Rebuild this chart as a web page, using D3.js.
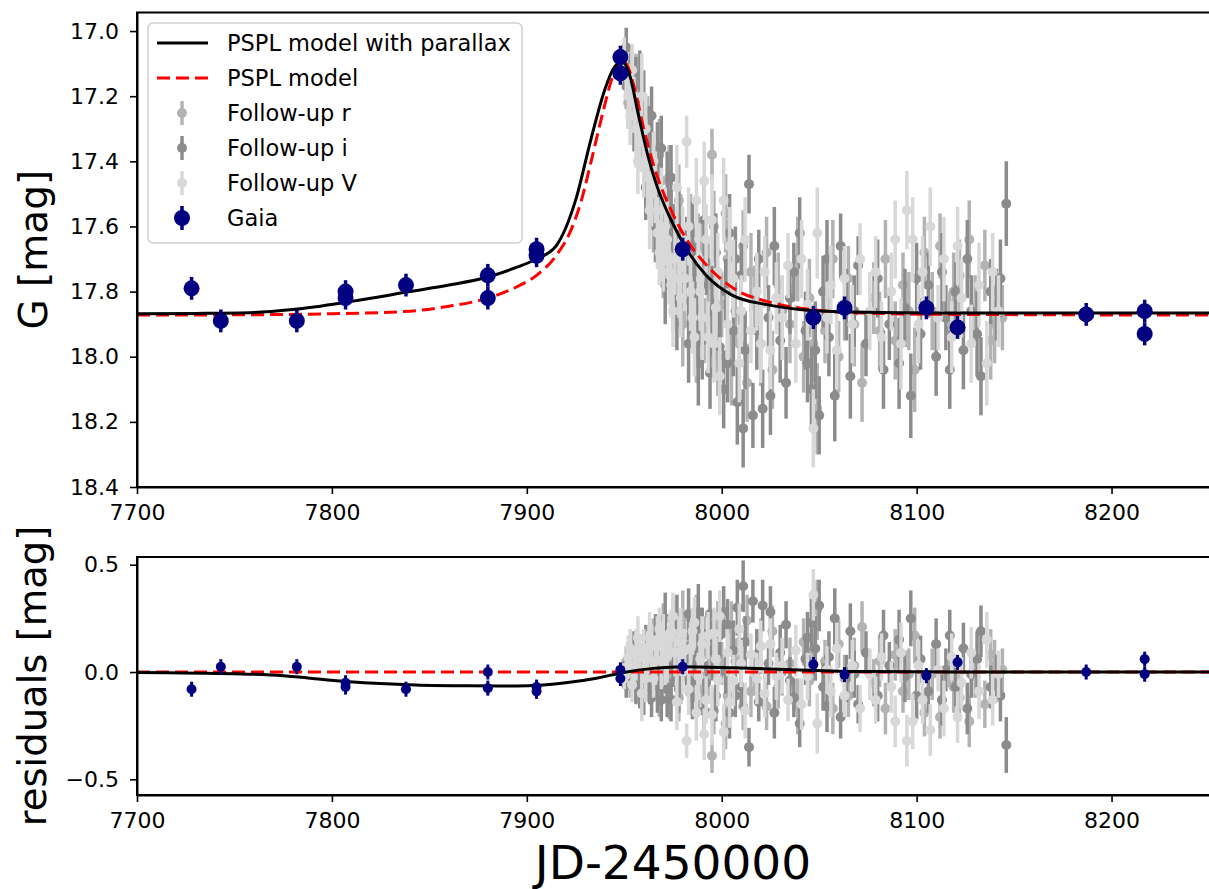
<!DOCTYPE html>
<html lang="en">
<head>
<meta charset="UTF-8" />
<title>Gaia microlensing light curve</title>
<script src="https://d3js.org/d3.v7.min.js"></script>
<style>
  body { margin: 0; background: #fff; }
  svg { display: block; font-family: 'DejaVu Sans', sans-serif; }
  .axis path { stroke: #000; stroke-width: 2; }
  .axis line { stroke: #000; stroke-width: 1.6; }
  .axis text { font-size: 22px; fill: #000; font-family: 'DejaVu Sans', sans-serif; }
</style>
</head>
<body>
<svg id="chart" width="1209" height="889"></svg>
<script>
// tick values
var xTicks = [7700, 7800, 7900, 8000, 8100, 8200]
var magTicks = [17.0, 17.2, 17.4, 17.6, 17.8, 18.0, 18.2, 18.4]
var resTicks = [-0.5, 0.0, 0.5]

// Gaia photometry: JD-2450000, G mag, error, residual
var gaiaJD  = [7728, 7743, 7782, 7807, 7807, 7838, 7880, 7880, 7905, 7905, 7948, 7948, 7980, 8047, 8063, 8105, 8121, 8187, 8217, 8217]
var gaiaMag = [17.79, 17.89, 17.89, 17.80, 17.82, 17.78, 17.75, 17.82, 17.67, 17.69, 17.08, 17.13, 17.67, 17.88, 17.85, 17.85, 17.91, 17.87, 17.86, 17.93]
var gaiaErr = [0.035, 0.035, 0.035, 0.035, 0.035, 0.035, 0.035, 0.035, 0.035, 0.035, 0.035, 0.035, 0.035, 0.035, 0.035, 0.035, 0.035, 0.035, 0.035, 0.035]
var gaiaRes = [-0.08, 0.025, 0.025, -0.07, -0.05, -0.08, -0.075, 0.0, -0.09, -0.07, -0.03, 0.01, 0.025, 0.035, -0.012, -0.017, 0.045, 0.0, -0.01, 0.06]

// follow-up photometry rows: [JD-2450000, mag, error, residual]
var followR = [
  [7949, 17.10, 0.05, -0.01], [7951, 17.17, 0.07, 0.05], [7953, 17.14, 0.09, -0.03], [7955, 17.25, 0.06, 0.04],
  [7958, 17.22, 0.10, -0.06], [7960, 17.35, 0.08, 0.03], [7961, 17.42, 0.09, 0.08], [7964, 17.36, 0.11, -0.04],
  [7966, 17.50, 0.09, 0.06], [7969, 17.46, 0.10, -0.04], [7971, 17.60, 0.11, 0.07], [7974, 17.55, 0.08, -0.03],
  [7977, 17.68, 0.10, 0.06], [7979, 17.62, 0.12, -0.03], [7981, 17.80, 0.09, 0.14], [7983, 17.72, 0.11, 0.04],
  [7986, 17.85, 0.12, 0.12], [7988, 17.66, 0.10, -0.08], [7991, 17.92, 0.10, 0.16], [7993, 17.78, 0.13, 0.01],
  [7995, 17.38, 0.08, -0.39], [7996, 17.60, 0.11, -0.18], [7998, 18.00, 0.12, 0.21], [8000, 17.84, 0.10, 0.04],
  [8003, 17.70, 0.12, -0.11], [8005, 18.02, 0.13, 0.20], [8007, 17.86, 0.09, 0.05], [8011, 17.66, 0.11, -0.16],
  [8013, 18.08, 0.12, 0.24], [8017, 17.82, 0.10, -0.01], [8020, 17.96, 0.13, 0.12], [8023, 17.68, 0.11, -0.16],
  [8026, 18.04, 0.12, 0.19], [8029, 17.78, 0.10, -0.07], [8035, 17.90, 0.12, 0.04], [8039, 17.70, 0.13, -0.16],
  [8042, 18.00, 0.11, 0.14], [8045, 17.82, 0.12, -0.04], [8049, 18.16, 0.14, 0.29], [8053, 17.92, 0.10, 0.05],
  [8057, 17.70, 0.12, -0.17], [8060, 18.00, 0.11, 0.13], [8065, 17.76, 0.10, -0.11], [8068, 17.90, 0.13, 0.03],
  [8072, 18.08, 0.12, 0.21], [8078, 17.82, 0.11, -0.05], [8084, 17.70, 0.12, -0.17], [8089, 17.95, 0.12, 0.08],
  [8093, 17.78, 0.10, -0.09], [8099, 18.04, 0.13, 0.17], [8104, 17.68, 0.11, -0.19], [8108, 17.86, 0.12, -0.01],
  [8112, 17.66, 0.10, -0.21], [8117, 17.92, 0.12, 0.05], [8122, 17.75, 0.11, -0.12], [8127, 17.64, 0.12, -0.23],
  [8130, 17.85, 0.10, -0.02], [8135, 17.72, 0.11, -0.15], [8140, 17.90, 0.12, 0.03], [8144, 17.88, 0.10, 0.01],
  [7952, 17.22, 0.08, 0.06], [7956, 17.16, 0.09, -0.05], [7962, 17.30, 0.10, -0.04], [7965, 17.58, 0.10, 0.15],
  [7968, 17.38, 0.11, -0.10], [7970, 17.70, 0.12, 0.20], [7973, 17.45, 0.10, -0.12], [7975, 17.80, 0.12, 0.22],
  [7978, 17.52, 0.11, -0.12], [7980, 17.90, 0.13, 0.25], [7984, 17.60, 0.10, -0.10], [7987, 17.96, 0.12, 0.24],
  [7990, 17.70, 0.11, -0.05], [7997, 17.88, 0.10, 0.10], [8002, 17.56, 0.12, -0.24], [8009, 17.96, 0.11, 0.14],
  [8015, 17.74, 0.12, -0.09], [8031, 17.86, 0.11, 0.00], [8047, 17.96, 0.12, 0.10], [8063, 17.84, 0.11, -0.03],
  [8081, 17.92, 0.12, 0.05], [8096, 17.86, 0.12, -0.01], [8119, 17.80, 0.12, -0.07], [8138, 17.95, 0.12, 0.08]
]
var followI = [
  [7950, 17.12, 0.06, -0.01], [7952, 17.15, 0.08, 0.02], [7954, 17.20, 0.07, 0.03], [7956, 17.18, 0.10, -0.05],
  [7957, 17.27, 0.08, 0.05], [7959, 17.30, 0.09, 0.02], [7960, 17.24, 0.12, -0.08], [7962, 17.38, 0.08, 0.04],
  [7963, 17.33, 0.10, -0.05], [7965, 17.45, 0.09, 0.03], [7967, 17.40, 0.12, -0.07], [7968, 17.52, 0.10, 0.05],
  [7970, 17.58, 0.08, 0.06], [7972, 17.50, 0.13, -0.08], [7973, 17.66, 0.10, 0.09], [7975, 17.62, 0.09, 0.02],
  [7976, 17.72, 0.12, 0.12], [7978, 17.58, 0.11, -0.08], [7980, 17.75, 0.10, 0.08], [7982, 17.69, 0.12, 0.02],
  [7984, 17.83, 0.11, 0.12], [7985, 17.62, 0.10, -0.12], [7987, 17.90, 0.13, 0.16], [7989, 17.78, 0.09, 0.03],
  [7990, 17.95, 0.12, 0.18], [7992, 17.71, 0.10, -0.05], [7994, 18.05, 0.11, 0.27], [7995, 17.86, 0.14, 0.10],
  [7997, 17.68, 0.12, -0.11], [7999, 17.97, 0.11, 0.17], [8001, 18.10, 0.12, 0.28], [8002, 17.80, 0.10, 0.00],
  [8004, 17.62, 0.12, -0.19], [8006, 17.92, 0.14, 0.10], [8008, 18.14, 0.13, 0.30], [8010, 17.75, 0.10, -0.07],
  [8012, 17.98, 0.12, 0.14], [8014, 17.47, 0.09, -0.35], [8016, 18.18, 0.10, 0.33], [8019, 17.70, 0.09, -0.14],
  [8021, 18.16, 0.12, 0.31], [8024, 17.88, 0.10, 0.04], [8027, 17.66, 0.12, -0.19], [8030, 17.95, 0.13, 0.09],
  [8033, 18.08, 0.11, 0.22], [8037, 17.74, 0.09, -0.12], [8040, 17.62, 0.11, -0.24], [8043, 17.92, 0.12, 0.06],
  [8046, 18.10, 0.13, 0.23], [8048, 17.98, 0.15, 0.11], [8050, 18.18, 0.12, 0.31], [8052, 17.80, 0.11, -0.07],
  [8055, 17.94, 0.12, 0.07], [8058, 18.12, 0.14, 0.25], [8061, 17.66, 0.10, -0.21], [8064, 17.84, 0.11, -0.03],
  [8066, 18.06, 0.13, 0.19], [8070, 17.72, 0.09, -0.15], [8074, 17.96, 0.10, 0.09], [8080, 17.76, 0.12, -0.11],
  [8086, 17.90, 0.11, 0.03], [8091, 18.02, 0.14, 0.15], [8094, 17.85, 0.12, -0.02], [8097, 18.12, 0.13, 0.25],
  [8102, 17.93, 0.11, 0.06], [8106, 17.78, 0.10, -0.09], [8110, 18.00, 0.12, 0.13], [8113, 17.74, 0.12, -0.13],
  [8115, 17.88, 0.10, 0.01], [8120, 17.80, 0.09, -0.07], [8124, 17.98, 0.12, 0.11], [8126, 17.70, 0.12, -0.17],
  [8131, 17.93, 0.13, 0.06], [8133, 18.06, 0.12, 0.19], [8138, 17.80, 0.10, -0.07], [8141, 17.84, 0.11, -0.03],
  [8146, 17.53, 0.13, -0.34],
  [7951, 17.05, 0.06, -0.06], [7955, 17.28, 0.09, 0.10], [7958, 17.14, 0.08, -0.09], [7961, 17.48, 0.10, 0.12],
  [7964, 17.26, 0.09, -0.12], [7966, 17.60, 0.11, 0.16], [7969, 17.36, 0.10, -0.13], [7971, 17.78, 0.12, 0.25],
  [7974, 17.45, 0.10, -0.13], [7977, 17.86, 0.12, 0.24], [7979, 17.70, 0.10, 0.05], [7983, 17.96, 0.12, 0.27],
  [7986, 17.74, 0.10, 0.03], [7988, 18.02, 0.13, 0.28], [7991, 17.58, 0.11, -0.18], [7996, 17.94, 0.12, 0.16],
  [8003, 18.02, 0.12, 0.22], [8007, 17.70, 0.10, -0.11], [8011, 18.22, 0.12, 0.40], [8018, 17.92, 0.12, 0.08],
  [8025, 18.12, 0.12, 0.28], [8035, 17.82, 0.11, -0.04], [8044, 18.02, 0.12, 0.16], [8054, 17.70, 0.12, -0.16],
  [8068, 17.86, 0.11, -0.01], [8083, 18.04, 0.12, 0.17], [8100, 17.76, 0.11, -0.11], [8117, 18.04, 0.12, 0.17],
  [8128, 17.86, 0.11, -0.01], [8143, 17.76, 0.12, -0.11]
]
var followV = [
  [7950, 17.08, 0.06, -0.02], [7952, 17.20, 0.10, 0.07], [7954, 17.12, 0.08, -0.06], [7956, 17.30, 0.12, 0.08],
  [7958, 17.34, 0.07, 0.07], [7959, 17.20, 0.13, -0.10], [7962, 17.45, 0.10, 0.09], [7963, 17.55, 0.12, 0.16],
  [7965, 17.40, 0.09, -0.03], [7967, 17.62, 0.11, 0.15], [7969, 17.55, 0.13, 0.05], [7970, 17.70, 0.10, 0.17],
  [7972, 17.64, 0.12, 0.07], [7974, 17.78, 0.10, 0.19], [7976, 17.70, 0.11, 0.09], [7977, 17.48, 0.13, -0.14],
  [7979, 17.82, 0.12, 0.18], [7981, 17.76, 0.10, 0.10], [7982, 17.34, 0.08, -0.32], [7983, 17.60, 0.12, -0.08],
  [7985, 17.88, 0.11, 0.19], [7987, 17.52, 0.13, -0.19], [7989, 17.80, 0.12, 0.06], [7991, 17.46, 0.12, -0.29],
  [7993, 17.94, 0.11, 0.17], [7995, 17.58, 0.14, -0.20], [7997, 17.85, 0.10, 0.06], [7999, 18.06, 0.12, 0.26],
  [8001, 17.52, 0.13, -0.28], [8003, 17.90, 0.11, 0.09], [8006, 17.76, 0.12, -0.04], [8009, 18.02, 0.12, 0.20],
  [8012, 17.64, 0.13, -0.18], [8015, 17.92, 0.10, 0.08], [8018, 17.80, 0.12, -0.03], [8022, 17.74, 0.11, -0.10],
  [8025, 17.98, 0.12, 0.13], [8031, 17.88, 0.13, 0.03], [8034, 17.72, 0.10, -0.13], [8038, 17.96, 0.12, 0.10],
  [8044, 17.84, 0.11, -0.02], [8047, 18.22, 0.12, 0.36], [8049, 17.62, 0.14, -0.24], [8054, 17.88, 0.11, 0.01],
  [8059, 17.98, 0.12, 0.11], [8063, 17.76, 0.10, -0.11], [8067, 17.90, 0.12, 0.03], [8071, 17.70, 0.11, -0.17],
  [8076, 17.86, 0.12, -0.01], [8082, 17.94, 0.11, 0.07], [8087, 17.80, 0.12, -0.07], [8092, 17.96, 0.14, 0.09],
  [8095, 17.55, 0.12, -0.32], [8098, 17.64, 0.13, -0.23], [8103, 17.74, 0.11, -0.13], [8107, 17.60, 0.12, -0.27],
  [8111, 17.88, 0.10, 0.01], [8114, 17.70, 0.13, -0.17], [8118, 17.94, 0.11, 0.07], [8123, 17.82, 0.12, -0.05],
  [8128, 17.96, 0.12, 0.09], [8132, 17.78, 0.13, -0.09], [8136, 18.02, 0.13, 0.15], [8142, 17.86, 0.11, -0.01],
  [7951, 17.14, 0.07, 0.02], [7953, 17.26, 0.09, 0.11], [7955, 17.22, 0.08, 0.03], [7957, 17.40, 0.10, 0.16],
  [7960, 17.42, 0.09, 0.11], [7961, 17.30, 0.11, -0.03], [7964, 17.50, 0.10, 0.12], [7966, 17.48, 0.11, 0.05],
  [7968, 17.68, 0.10, 0.20], [7971, 17.60, 0.12, 0.06], [7973, 17.74, 0.10, 0.16], [7975, 17.86, 0.11, 0.26],
  [7978, 17.76, 0.12, 0.14], [7980, 17.64, 0.10, 0.00], [7984, 17.80, 0.12, 0.11], [7986, 17.94, 0.12, 0.23],
  [7988, 17.70, 0.11, -0.02], [7990, 17.88, 0.13, 0.13], [7992, 17.64, 0.11, -0.13], [7996, 17.96, 0.12, 0.18],
  [7998, 17.74, 0.12, -0.04], [8004, 17.66, 0.12, -0.14], [8010, 17.86, 0.11, 0.04], [8020, 17.96, 0.12, 0.12],
  [8028, 17.82, 0.11, -0.02], [8041, 17.70, 0.12, -0.15], [8056, 17.78, 0.12, -0.09], [8079, 17.74, 0.11, -0.13],
  [8089, 17.64, 0.12, -0.23], [8101, 17.90, 0.12, 0.03], [8121, 17.66, 0.12, -0.21], [8139, 17.74, 0.12, -0.13]
]

// model curves
var parJD  = [7700, 7730, 7760, 7780, 7810, 7840, 7860, 7880, 7895, 7905, 7915, 7925, 7933, 7940, 7945, 7949, 7953, 7957, 7962, 7967, 7974, 7981, 7992, 8005, 8023, 8040, 8060, 8092, 8150, 8250]
var parMag = [17.868, 17.867, 17.864, 17.855, 17.83, 17.80, 17.78, 17.755, 17.725, 17.70, 17.66, 17.52, 17.33, 17.18, 17.11, 17.095, 17.14, 17.25, 17.38, 17.48, 17.58, 17.66, 17.75, 17.81, 17.84, 17.855, 17.862, 17.865, 17.866, 17.866]
var psplJD  = [7700, 7760, 7800, 7840, 7860, 7880, 7895, 7905, 7915, 7922, 7928, 7933, 7939, 7944, 7948, 7951, 7955, 7960, 7966, 7974, 7982, 7994, 8006, 8023, 8043, 8074, 8120, 8250]
var psplMag = [17.872, 17.871, 17.868, 17.86, 17.845, 17.82, 17.785, 17.75, 17.69, 17.62, 17.52, 17.40, 17.25, 17.14, 17.09, 17.10, 17.17, 17.30, 17.43, 17.55, 17.64, 17.73, 17.79, 17.83, 17.853, 17.866, 17.87, 17.872]
var parResJD = [7700, 7750, 7775, 7790, 7809, 7843, 7870, 7895, 7920, 7935, 7949, 7965, 7980, 8006, 8040, 8074, 8120, 8250]
var parRes   = [-0.002, -0.008, -0.017, -0.03, -0.045, -0.06, -0.064, -0.065, -0.05, -0.03, -0.003, 0.017, 0.025, 0.02, 0.01, 0.002, 0.0, 0.0]
var psplResJD = [7700, 8250]
var psplRes   = [0, 0]

var colR = '#b3b3b3', colI = '#8c8c8c', colV = '#d8d8d8', colGaia = '#000080'

var svg = d3.select('#chart')
var left = 137, right = 1209
var top1 = 12.5, bot1 = 487, top2 = 557, bot2 = 795

var x = d3.scaleLinear().domain([7700, 8250]).range([left, right])
var yMag = d3.scaleLinear().domain([16.943, 18.4]).range([top1, bot1])
var yRes = d3.scaleLinear().domain([-0.573, 0.536]).range([bot2, top2])

var defs = svg.append('defs')
defs.append('clipPath').attr('id', 'clipTop').append('rect')
  .attr('x', left).attr('y', top1).attr('width', right - left).attr('height', bot1 - top1)
defs.append('clipPath').attr('id', 'clipRes').append('rect')
  .attr('x', left).attr('y', top2).attr('width', right - left).attr('height', bot2 - top2)

var gaiaRows = gaiaJD.map(function (jd, i) { return [jd, gaiaMag[i], gaiaErr[i], gaiaRes[i]] })

function errorbars(g, rows, yScale, idx, color, r, sw) {
  var grp = g.append('g')
  grp.selectAll('line').data(rows).enter().append('line')
    .attr('x1', function (d) { return x(d[0]) })
    .attr('x2', function (d) { return x(d[0]) })
    .attr('y1', function (d) { return yScale(d[idx] - d[2]) })
    .attr('y2', function (d) { return yScale(d[idx] + d[2]) })
    .attr('stroke', color).attr('stroke-width', sw)
  grp.selectAll('circle').data(rows).enter().append('circle')
    .attr('cx', function (d) { return x(d[0]) })
    .attr('cy', function (d) { return yScale(d[idx]) })
    .attr('r', r).attr('fill', color)
}

function modelLine(g, xs, ys, yScale, color, dash) {
  var line = d3.line()
    .x(function (d) { return x(d[0]) })
    .y(function (d) { return yScale(d[1]) })
    .curve(d3.curveMonotoneX)
  g.append('path').datum(d3.zip(xs, ys))
    .attr('d', line).attr('fill', 'none')
    .attr('stroke', color).attr('stroke-width', 3)
    .attr('stroke-dasharray', dash)
}

// top panel
var gTop = svg.append('g').attr('clip-path', 'url(#clipTop)')
errorbars(gTop, followR, yMag, 1, colR, 5, 3.5)
errorbars(gTop, followI, yMag, 1, colI, 5, 3.5)
errorbars(gTop, followV, yMag, 1, colV, 5, 3.5)
modelLine(gTop, psplJD, psplMag, yMag, '#ff0000', '13,6')
modelLine(gTop, parJD, parMag, yMag, '#000', null)
errorbars(gTop, gaiaRows, yMag, 1, colGaia, 8, 3.5)

// residual panel
var gRes = svg.append('g').attr('clip-path', 'url(#clipRes)')
errorbars(gRes, followR, yRes, 3, colR, 5, 3.5)
errorbars(gRes, followI, yRes, 3, colI, 5, 3.5)
errorbars(gRes, followV, yRes, 3, colV, 5, 3.5)
modelLine(gRes, psplResJD, psplRes, yRes, '#ff0000', '13,6')
modelLine(gRes, parResJD, parRes, yRes, '#000', null)
errorbars(gRes, gaiaRows, yRes, 3, colGaia, 5, 3)

// axes
svg.append('g').attr('class', 'axis').attr('transform', 'translate(0,' + bot1 + ')')
  .call(d3.axisBottom(x).tickValues(xTicks).tickFormat(d3.format('d')).tickSize(7).tickPadding(10).tickSizeOuter(0))
svg.append('g').attr('class', 'axis').attr('transform', 'translate(' + left + ',0)')
  .call(d3.axisLeft(yMag).tickValues(magTicks).tickFormat(d3.format('.1f')).tickSize(7).tickPadding(11).tickSizeOuter(0))
svg.append('g').attr('class', 'axis').attr('transform', 'translate(0,' + bot2 + ')')
  .call(d3.axisBottom(x).tickValues(xTicks).tickFormat(d3.format('d')).tickSize(7).tickPadding(10).tickSizeOuter(0))
svg.append('g').attr('class', 'axis').attr('transform', 'translate(' + left + ',0)')
  .call(d3.axisLeft(yRes).tickValues(resTicks).tickFormat(d3.format('.1f')).tickSize(7).tickPadding(11).tickSizeOuter(0))

// remaining spines (right edge lies just outside the picture)
svg.append('rect').attr('x', left).attr('y', top1).attr('width', right - left + 5).attr('height', bot1 - top1)
  .attr('fill', 'none').attr('stroke', '#000').attr('stroke-width', 2)
svg.append('rect').attr('x', left).attr('y', top2).attr('width', right - left + 5).attr('height', bot2 - top2)
  .attr('fill', 'none').attr('stroke', '#000').attr('stroke-width', 2)

// axis labels
svg.append('text').attr('transform', 'translate(47,' + (top1 + bot1) / 2 + ') rotate(-90)')
  .attr('text-anchor', 'middle').style('font-size', '39px').text('G [mag]')
svg.append('text').attr('transform', 'translate(46,' + (top2 + bot2) / 2 + ') rotate(-90)')
  .attr('text-anchor', 'middle').style('font-size', '38.5px').text('residuals [mag]')
svg.append('text').attr('x', (left + right) / 2).attr('y', 879)
  .attr('text-anchor', 'middle').style('font-size', '47px').text('JD-2450000')

// legend
var legendItems = [
  { label: 'PSPL model with parallax', type: 'line', color: '#000', dash: null },
  { label: 'PSPL model', type: 'line', color: '#ff0000', dash: '13,6' },
  { label: 'Follow-up r', type: 'err', color: colR, r: 5 },
  { label: 'Follow-up i', type: 'err', color: colI, r: 5 },
  { label: 'Follow-up V', type: 'err', color: colV, r: 5 },
  { label: 'Gaia', type: 'err', color: colGaia, r: 8 }
]
var lg = svg.append('g')
lg.append('rect').attr('x', 148).attr('y', 23).attr('width', 374).attr('height', 220).attr('rx', 5)
  .attr('fill', '#fff').attr('fill-opacity', 0.85).attr('stroke', '#d0d0d0').attr('stroke-width', 1.5)
legendItems.forEach(function (item, i) {
  var cy = 43 + i * 35
  if (item.type === 'line') {
    lg.append('line').attr('x1', 157).attr('x2', 208).attr('y1', cy).attr('y2', cy)
      .attr('stroke', item.color).attr('stroke-width', 3).attr('stroke-dasharray', item.dash)
  } else {
    lg.append('line').attr('x1', 182).attr('x2', 182).attr('y1', cy - 12).attr('y2', cy + 12)
      .attr('stroke', item.color).attr('stroke-width', 3.5)
    lg.append('circle').attr('cx', 182).attr('cy', cy).attr('r', item.r).attr('fill', item.color)
  }
  lg.append('text').attr('x', 227).attr('y', cy).attr('dy', '0.36em')
    .style('font-size', '22.5px').text(item.label)
})
</script>
</body>
</html>
